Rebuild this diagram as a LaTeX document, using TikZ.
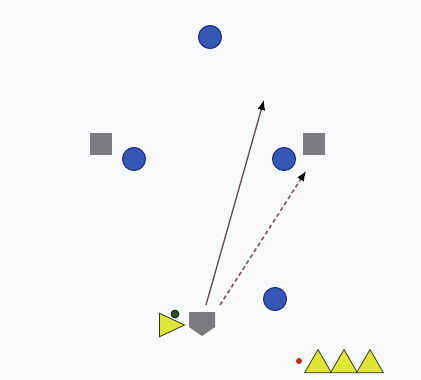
\documentclass[tikz,border=0pt]{standalone}
\definecolor{bgField}{HTML}{F8F9FB}
\definecolor{playerBlue}{HTML}{3656B4}
\definecolor{playerEdge}{HTML}{1C2A6E}
\definecolor{markerGrey}{HTML}{7A7B7E}
\definecolor{coneYellow}{HTML}{DDE635}
\definecolor{ballGreen}{HTML}{2F4F22}
\definecolor{ballRed}{HTML}{C0282E}
\definecolor{runLine}{HTML}{5B4E4E}
\definecolor{passLine}{HTML}{7D5C5A}
\usepackage{tikz}
\usetikzlibrary{positioning, shapes.geometric, arrows.meta}

\tikzset{
  player/.style={circle, fill=playerBlue, draw=playerEdge, line width=1pt, minimum size=23pt, inner sep=0pt},
  marker/.style={rectangle, fill=markerGrey, minimum size=22pt, inner sep=0pt},
  cone/.style={regular polygon, regular polygon sides=3, fill=coneYellow, draw=black!80, line width=0.8pt, minimum size=31pt, inner sep=0pt},
  runArrow/.style={draw=runLine, line width=1.3pt, -{Latex[length=10pt,width=8pt,fill=black,color=black]}},
  passArrow/.style={draw=passLine, line width=1.6pt, dashed, dash pattern=on 4pt off 3pt, -{Latex[length=10pt,width=8pt,fill=black,color=black]}}
}

\begin{document}
\begin{tikzpicture}[x=1pt, y=-1pt]
  \fill[bgField] (0,0) rectangle (421,380);

  \node[player] (top) at (210,37) {};
  \node[player] (leftMid) at (134,159) {};
  \node[player] (rightMid) at (284,159) {};
  \node[player] (bottomRight) at (275,299) {};
  \node[marker] (leftBox) at (101,144) {};
  \node[marker] (rightBox) at (314,144) {};

  \node[coordinate] (keeper) at (202,323) {};
  \fill[markerGrey] ([shift={(-13,-11)}]keeper) -- ([shift={(13,-11)}]keeper) -- ([shift={(13,4)}]keeper)
    -- ([shift={(0,13)}]keeper) -- ([shift={(-13,4)}]keeper) -- cycle;

  \node[isosceles triangle, isosceles triangle apex angle=50, fill=coneYellow, draw=black!80,
        line width=0.8pt, minimum height=25pt, inner sep=0pt] (shooter) at (167,325) {};
  \node[circle, fill=ballGreen, draw=black, line width=0.6pt, minimum size=8pt, inner sep=0pt] (ball) at (175,314) {};

  \node[circle, fill=ballRed, minimum size=6pt, inner sep=0pt] (spare) at (299,361) {};
  \node[cone] (coneA) at (318,365) {};
  \node[cone] (coneB) at (344,365) {};
  \node[cone] (coneC) at (370,365) {};

  \coordinate (runEnd) at (264,100);
  \coordinate (passEnd) at (306,171);
  \draw[runArrow] ([shift={(4,-18)}]keeper) -- (runEnd);
  \draw[passArrow] ([shift={(18,-18)}]keeper) -- (passEnd);
\end{tikzpicture}
\end{document}
